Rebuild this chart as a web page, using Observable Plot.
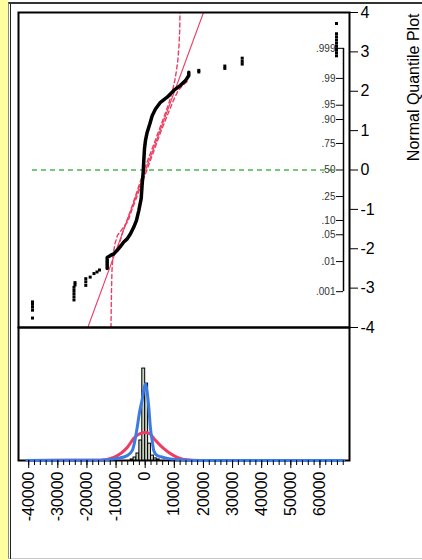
<!DOCTYPE html>
<html>
<head>
<meta charset="utf-8">
<script src="https://cdn.jsdelivr.net/npm/d3@7"></script>
<script src="https://cdn.jsdelivr.net/npm/@observablehq/plot@0.6"></script>
<style>
  html, body { margin: 0; padding: 0; background: #fff; }
  #chart { position: relative; width: 422px; height: 560px; overflow: hidden;
           font-family: "Liberation Sans", Arial, sans-serif; background: #fff; }
  #strip { position: absolute; left: 0; top: 0; width: 8px; height: 560px; background: #ffffa0; }
  #outer { position: absolute; left: 8px; top: 2px; right: -4px; bottom: 1px;
           border-left: 1px solid #8a8a8a; border-top: 2px solid #333; border-bottom: 1px solid #c8c8c8; }
  #inner { position: absolute; left: 10px; top: 4px; right: -4px; bottom: 1px;
           border-left: 1px solid #222; }
  .panel { position: absolute; left: 0; }
  .panel svg { overflow: visible; }
</style>
</head>
<body>
<div id="chart">
  <div id="strip"></div>
  <div id="outer"></div>
  <div id="inner"></div>
  <div id="qq" class="panel" style="top:0"></div>
  <div id="hist" class="panel" style="top:327px"></div>
</div>
<script>
// ---- shared value axis ----
const xDomain = [-43500, 70150];
const majorTicks = [-40000, -30000, -20000, -10000, 0, 10000, 20000, 30000, 40000, 50000, 60000];
const minorTicks = d3.range(-40000, 68001, 2000);
const hyphen = d => (d < 0 ? "-" + (-d) : String(d));

// ---- normal quantile plot ----
// dense run of ordered values (value, normal quantile)
const curveValue = [-13050, -13050, -11920, -10780, -9620, -8480, -7350, -6180, -5050, -3910, -2990, -2200,
                    -1370, -1030, -690, -480, -240, 100, 690, 1580, 2400, 3540, 5250, 7550, 9820, 12120,
                    13840, 14970, 14970];
const curveQuantile = [-2.50, -2.22, -2.17, -2.13, -2.04, -1.94, -1.83, -1.75, -1.62, -1.45, -1.28, -1.03,
                       -0.72, -0.35, -0.06, 0.24, 0.54, 0.75, 0.96, 1.17, 1.38, 1.55, 1.72, 1.85, 2.02, 2.15,
                       2.27, 2.40, 2.48];
// isolated points in both tails
const tailValue = [-38700, -38700, -38700, -38700, -38700,
                   -24100, -24100, -24450, -24450, -24450, -24450, -24450,
                   -20400, -20400, -20400, -18890, -17580, -16550, -15690,
                   18410, 18410, 27340, 27340, 33310, 33310, 33310,
                   65690, 65690, 65690, 65690, 65690, 65690, 65690, 65690, 65690];
const tailQuantile = [-3.76, -3.56, -3.48, -3.41, -3.35,
                      -2.86, -2.92, -2.98, -3.06, -3.14, -3.22, -3.30,
                      -2.93, -2.84, -2.76, -2.72, -2.63, -2.59, -2.54,
                      2.49, 2.53, 2.58, 2.64, 2.69, 2.76, 2.84,
                      2.90, 2.98, 3.06, 3.14, 3.22, 3.30, 3.38, 3.46, 3.72];
// fitted normal line (mean + sd * quantile)
const fitValue = [-19710, 20020];
const fitQuantile = [-4, 4];
// confidence limits
const bandLowValue = [-13000, -11000, -9600, -8600, -7600, -5100, -350, 4700, 8000, 9380, 10160, 10750, 11200, 11610, 11850, 11950];
const bandLowQuantile = [-2.22, -2.12, -2.00, -1.80, -1.55, -1.05, 0, 1.0, 1.66, 2.02, 2.27, 2.53, 2.78, 3.16, 3.54, 4.0];
const bandHighValue = [-11740, -11680, -11570, -11400, -11060, -10370, -9510, -7900, -5900, -4500, 600, 5500, 8200, 9900, 11200, 12800, 14500];
const bandHighQuantile = [-4.0, -3.57, -3.06, -2.55, -2.17, -1.87, -1.66, -1.50, -1.3, -1.0, 0, 1.0, 1.5, 1.8, 2.0, 2.15, 2.25];
// axis ticks
const quantileTicks = [-4, -3, -2, -1, 0, 1, 2, 3, 4];
const probLabel = [".001", ".01", ".05", ".10", ".25", ".50", ".75", ".90", ".95", ".99", ".999"];
const probQuantile = [-3.090, -2.326, -1.645, -1.282, -0.674, 0, 0.674, 1.282, 1.645, 2.326, 3.090];

// ---- histogram (share of rows, %) ----
const binLower = [-5000, -4000, -3000, -2000, -1000, 0, 1000, 2000, 3000, 4000];
const binShare = [0.3, 0.85, 2.0, 5.7, 26.2, 21.9, 4.8, 1.4, 0.6, 0.3];
const binWidth = 1000;
// fitted normal density curve
const normValue = [-40520, -15350, -10780, -6180, -3910, -1610, 0, 1480, 2950, 6390, 9820, 13260, 18990, 68100];
const normShare = [0, 0.1, 0.9, 3.7, 6.3, 7.7, 8.0, 7.7, 6.3, 3.4, 1.4, 0.3, 0, 0];
// smooth density curve
const kdeValue = [-40520, -15350, -9620, -6180, -4460, -3670, -2750, -1960, -1030, -410, 100, 690, 1240,
                  1820, 2400, 2950, 4120, 5250, 7550, 14420, 18990, 68100];
const kdeShare = [0, 0.1, 0.6, 1.4, 2.8, 5.1, 9.4, 13.7, 17.4, 20.5, 21.9, 19.4, 15.1, 9.1, 5.7, 2.8, 1.4,
                  1.1, 0.6, 0.1, 0, 0];

const red = "#ee3d62", blue = "#3b7be3", green = "#49b84a";
const zip = (a, b) => a.map((v, i) => ({v, q: b[i]}));

const curve = zip(curveValue, curveQuantile);
const tails = zip(tailValue, tailQuantile);
const fit = zip(fitValue, fitQuantile);
const bandLow = zip(bandLowValue, bandLowQuantile);
const bandHigh = zip(bandHighValue, bandHighQuantile);
const allValues = curveValue.concat(tailValue);

const font = {fontFamily: "'Liberation Sans', Arial, sans-serif", background: "transparent", overflow: "visible"};

const qq = Plot.plot({
  width: 422, height: 330,
  marginLeft: 18, marginRight: 73, marginTop: 12, marginBottom: 3,
  x: {domain: xDomain, axis: null},
  y: {domain: [-4, 4], axis: null},
  style: font,
  marks: [
    Plot.ruleY([0], {x1: d3.min(allValues), x2: d3.max(allValues), stroke: green, strokeWidth: 1.4, strokeDasharray: "5,4"}),
    Plot.line(fit, {x: "v", y: "q", stroke: red, strokeWidth: 1.1}),
    Plot.line(bandLow, {x: "v", y: "q", stroke: red, strokeWidth: 1.4, strokeDasharray: "4,3"}),
    Plot.line(bandHigh, {x: "v", y: "q", stroke: red, strokeWidth: 1.4, strokeDasharray: "4,3"}),
    Plot.line(curve, {x: "v", y: "q", stroke: "#000", strokeWidth: 3.5, strokeLinejoin: "round"}),
    Plot.dot(tails, {x: "v", y: "q", symbol: "square", r: 1.7, fill: "#000"}),
    Plot.axisY(probQuantile, {anchor: "left", dx: 325, tickSize: 7, tickPadding: 1, fontSize: 10, fill: "#333",
                              tickFormat: d => probLabel[probQuantile.indexOf(d)], label: null}),
    Plot.ruleX([xDomain[1]], {y1: probQuantile[0], y2: probQuantile[probQuantile.length - 1], dx: -6, stroke: "#000", strokeWidth: 1.5}),
    Plot.axisY(quantileTicks, {anchor: "right", tickSize: 8, tickPadding: 3, fontSize: 16, fill: "#000",
                               tickFormat: hyphen, label: null}),
    Plot.frame({stroke: "#000", strokeWidth: 2}),
    Plot.text(["Normal Quantile Plot"], {frameAnchor: "top-right", rotate: -90, textAnchor: "end", dx: 58, dy: 1, fontSize: 16, fill: "#000"})
  ]
});
document.getElementById("qq").append(qq);

const bins = binLower.map((lo, i) => ({lo, hi: lo + binWidth, share: binShare[i]}));
const normal = normValue.map((v, i) => ({v, s: normShare[i]}));
const kde = kdeValue.map((v, i) => ({v, s: kdeShare[i]}));

const hist = Plot.plot({
  width: 422, height: 233,
  marginLeft: 18, marginRight: 73, marginTop: 0, marginBottom: 100,
  x: {domain: xDomain, axis: null},
  y: {domain: [0, 37.9], axis: null},
  style: font,
  marks: [
    Plot.frame({stroke: "#000", strokeWidth: 2}),
    Plot.rectY(bins, {x1: "lo", x2: "hi", y: "share", fill: "#c8d2c3", stroke: "#000", strokeWidth: 1}),
    Plot.line(normal, {x: "v", y: "s", stroke: red, strokeWidth: 3, curve: "monotone-x"}),
    Plot.line(kde, {x: "v", y: "s", stroke: blue, strokeWidth: 3, curve: "monotone-x"}),
    Plot.axisX(minorTicks, {tickSize: 5, tickFormat: () => "", stroke: "#000"}),
    Plot.axisX(majorTicks, {tickSize: 8, tickPadding: 3, tickRotate: -90, fontSize: 16, fill: "#000",
                            tickFormat: hyphen, label: null})
  ]
});
document.getElementById("hist").append(hist);
</script>
</body>
</html>
